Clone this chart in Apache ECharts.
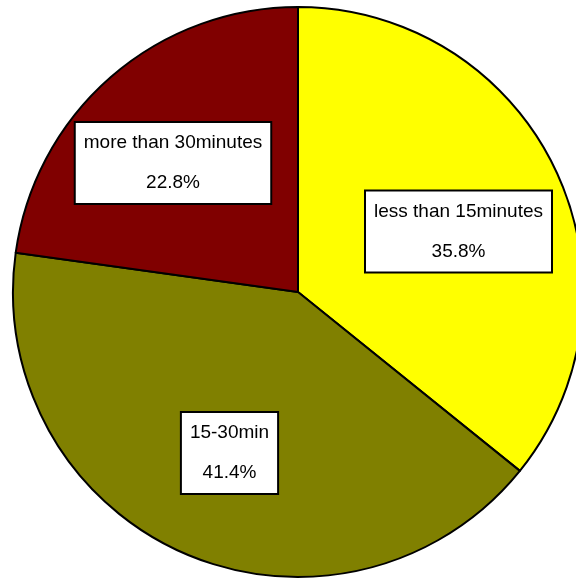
<!DOCTYPE html>
<html>
<head>
<meta charset="utf-8">
<script src="https://cdn.jsdelivr.net/npm/echarts@6/dist/echarts.min.js"></script>
<style>html,body{margin:0;padding:0;background:#fff}#c{width:576px;height:581px}</style>
</head>
<body>
<div id="c"></div>
<script>
const categories = ['less than 15minutes', '15-30min', 'more than 30minutes'];
const values = [35.8, 41.4, 22.8];
const colors = ['#FFFF00', '#808000', '#800000'];
const labelPos = [[458.5, 231.5], [229.5, 453], [173, 163]];

const chart = echarts.init(document.getElementById('c'), null, {renderer: 'canvas'});
chart.setOption({
  animation: false,
  series: [{
    type: 'pie',
    center: [298, 292],
    radius: 285,
    startAngle: 90,
    clockwise: true,
    avoidLabelOverlap: false,
    data: categories.map((c, i) => ({name: c, value: values[i], itemStyle: {color: colors[i]}})),
    itemStyle: {borderColor: '#000', borderWidth: 2},
    label: {
      show: true,
      position: 'inside',
      formatter: p => p.name + '\n' + p.percent.toFixed(1) + '%',
      fontFamily: 'Liberation Sans, Arial, sans-serif',
      fontSize: 19,
      color: '#000',
      lineHeight: 40,
      align: 'center',
      verticalAlign: 'middle',
      backgroundColor: '#fff',
      borderColor: '#000',
      borderWidth: 2,
      padding: [0, 8]
    },
    labelLine: {show: false},
    labelLayout: p => ({x: labelPos[p.dataIndex][0], y: labelPos[p.dataIndex][1], align: 'center', verticalAlign: 'middle'}),
    emphasis: {disabled: true}
  }]
});
</script>
</body>
</html>
